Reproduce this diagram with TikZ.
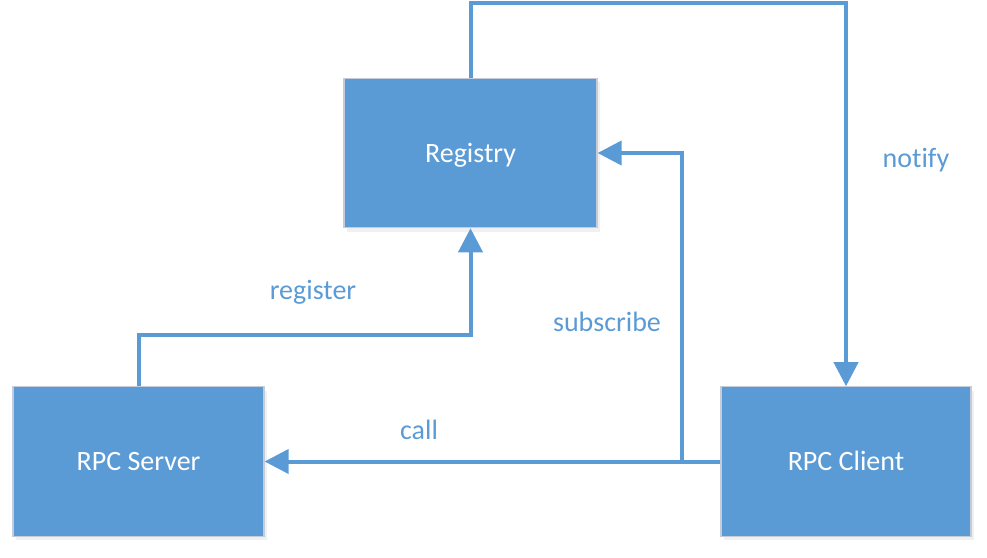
\documentclass[tikz,border=0pt]{standalone}
\usepackage{fontspec}
\setmainfont{Carlito}[Ligatures=NoCommon]
\usetikzlibrary{arrows.meta,shadows,calc}
\definecolor{boxblue}{HTML}{5B9BD5}
\definecolor{boxedge}{HTML}{C3CCD8}
\tikzset{
  block/.style={rectangle, fill=boxblue, draw=boxedge, line width=0.9pt,
    minimum width=188pt, minimum height=112pt, inner sep=0pt,
    text height=13.5pt, text depth=0pt,
    text=white, font=\fontsize{21}{25}\selectfont,
    drop shadow={opacity=0.12, shadow xshift=2pt, shadow yshift=-3pt}},
  conn/.style={draw=boxblue, line width=3pt,
    -{Triangle[length=18pt,width=18pt]}},
  lbl/.style={text=boxblue, font=\fontsize{21}{25}\selectfont, inner sep=0pt}
}
\begin{document}
\begin{tikzpicture}[x=0.75pt,y=-0.75pt]
\useasboundingbox (0,0) rectangle (987,557);
\node[block, minimum width=189.75pt] (reg) at (470.5,153) {Registry};
\node[block, minimum width=188.25pt] (srv) at (138.5,461.5) {RPC Server};
\node[block, minimum width=187.5pt] (cli) at (846,461.5) {RPC Client};
\draw[conn] (reg.north) -- ++(0,-75) -| (cli.north);
\draw[conn] (cli.west) -- ++(-38,0) |- (reg.east);
\draw[conn] (cli.west) -- (srv.east);
\draw[conn] (srv.north) -- ++(0,-51) -| (reg.south);
\node[lbl] (lnotify) at (916,160) {notify};
\node[lbl] (lsub) at (607,322) {subscribe};
\node[lbl] (lreg) at (313,292) {register};
\node[lbl] (lcall) at (419,430) {call};
\end{tikzpicture}
\end{document}
